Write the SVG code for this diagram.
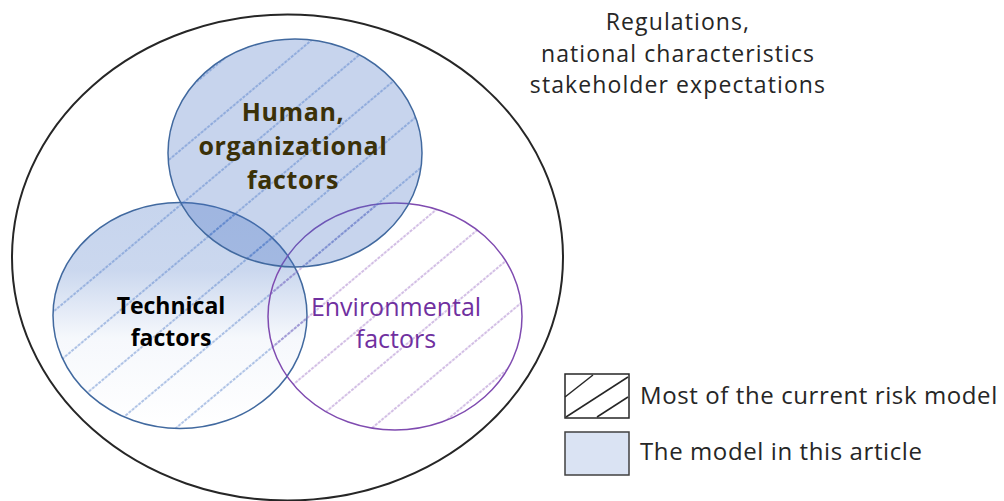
<svg xmlns="http://www.w3.org/2000/svg" width="1004" height="501" viewBox="0 0 1004 501">
  <style>
    .lbl { font-family: "Open Sans", "Liberation Sans", sans-serif; }
    .top { font-size: 23px; fill: #262626; text-anchor: middle; letter-spacing: 1.1px; }
    .leg { font-size: 24px; fill: #262626; letter-spacing: 0.6px; }
    .bold { font-weight: bold; text-anchor: middle; }
    .env { font-size: 25px; fill: #7030a0; text-anchor: middle; }
  </style>
  <defs>
    <pattern id="hatchBlue" patternUnits="userSpaceOnUse" width="42" height="42" patternTransform="rotate(50)">
      <line x1="21" y1="0" x2="21" y2="42" stroke="#4472c4" stroke-width="1" stroke-dasharray="3 1.2" stroke-opacity="0.85"/>
    </pattern>
    <pattern id="hatchPurple" patternUnits="userSpaceOnUse" width="42" height="42" patternTransform="rotate(50)">
      <line x1="21" y1="0" x2="21" y2="42" stroke="#9a6cc4" stroke-width="1" stroke-dasharray="3 1.2" stroke-opacity="0.9"/>
    </pattern>
    <linearGradient id="techGrad" x1="0" y1="0" x2="0" y2="1">
      <stop offset="0" stop-color="#4472c4" stop-opacity="0.3"/>
      <stop offset="0.3" stop-color="#4472c4" stop-opacity="0.28"/>
      <stop offset="0.6" stop-color="#4472c4" stop-opacity="0.05"/>
      <stop offset="1" stop-color="#4472c4" stop-opacity="0"/>
    </linearGradient>
  </defs>

  <g id="context">
    <ellipse cx="287.5" cy="257.5" rx="275.5" ry="243" fill="#ffffff" stroke="#262626" stroke-width="2"/>
    <text class="lbl top" x="678" y="30">Regulations,</text>
    <text class="lbl top" x="678" y="62">national characteristics</text>
    <text class="lbl top" x="678" y="93">stakeholder expectations</text>
  </g>

  <g id="technical">
    <ellipse cx="180" cy="315.5" rx="127" ry="113" fill="url(#techGrad)"/>
    <ellipse cx="180" cy="315.5" rx="127" ry="113" fill="url(#hatchBlue)" stroke="#41699f" stroke-width="1.5"/>
  </g>

  <g id="environmental">
    <ellipse cx="395" cy="316.5" rx="127" ry="113.5" fill="url(#hatchPurple)" stroke="#7f4bb0" stroke-width="1.5"/>
  </g>

  <g id="human">
    <ellipse cx="295" cy="153" rx="127" ry="114" fill="#4472c4" fill-opacity="0.3"/>
    <ellipse cx="295" cy="153" rx="127" ry="114" fill="url(#hatchBlue)" stroke="#41699f" stroke-width="1.5"/>
  </g>

  <g id="labels">
    <text class="lbl bold" x="293" y="121" fill="#3b3108" font-size="25" letter-spacing="0.6">Human,</text>
    <text class="lbl bold" x="293" y="155" fill="#3b3108" font-size="25" letter-spacing="0.6">organizational</text>
    <text class="lbl bold" x="293" y="189" fill="#3b3108" font-size="25" letter-spacing="0.6">factors</text>
    <text class="lbl bold" x="171" y="314" fill="#000000" font-size="23">Technical</text>
    <text class="lbl bold" x="171" y="346" fill="#000000" font-size="23">factors</text>
    <text class="lbl env" x="396" y="316">Environmental</text>
    <text class="lbl env" x="396" y="348">factors</text>
  </g>

  <g id="connectors"/>

  <g id="legend-hatch">
    <rect x="565" y="374" width="64" height="44" fill="#ffffff" stroke="#262626" stroke-width="1.5"/>
    <line x1="565" y1="397" x2="593" y2="375" stroke="#262626" stroke-width="1.5"/>
    <line x1="566" y1="417" x2="628" y2="377" stroke="#262626" stroke-width="1.5"/>
    <line x1="597" y1="417" x2="628" y2="397" stroke="#262626" stroke-width="1.5"/>
    <text class="lbl leg" x="640" y="404">Most of the current risk model</text>
  </g>

  <g id="legend-fill">
    <rect x="565" y="432" width="64" height="43" fill="#dae3f3" stroke="#404040" stroke-width="1.5"/>
    <text class="lbl leg" x="640" y="460">The model in this article</text>
  </g>
</svg>
